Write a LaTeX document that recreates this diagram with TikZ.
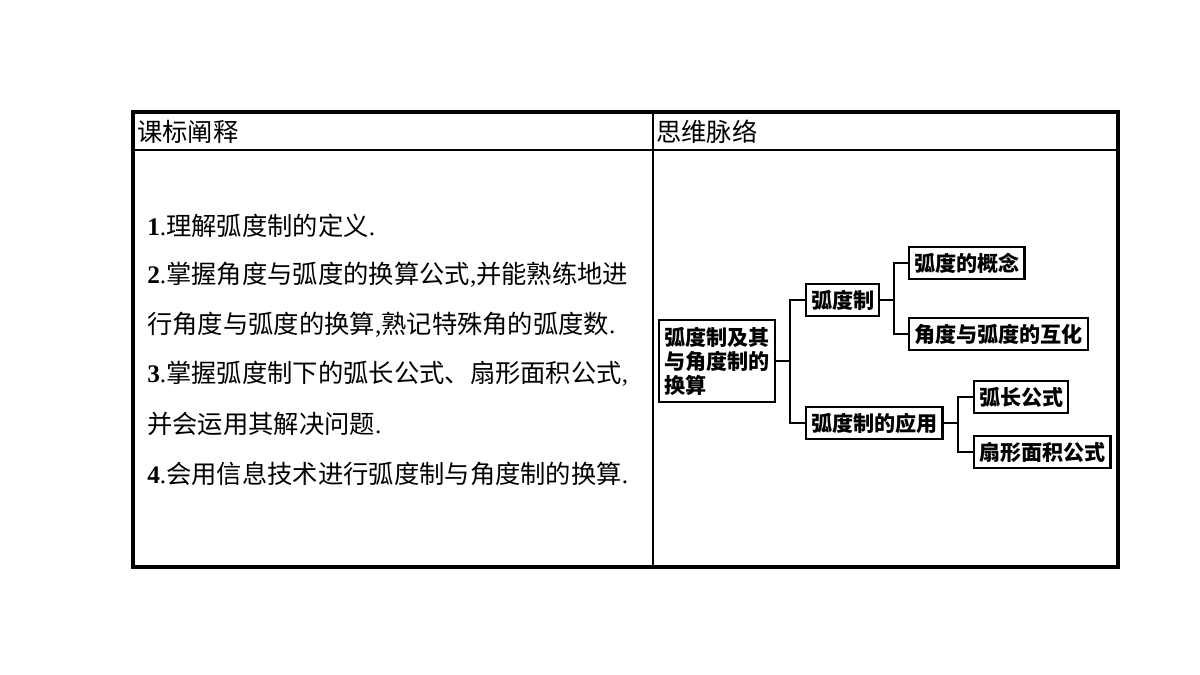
\documentclass[tikz,border=0pt]{standalone}
\usepackage{fontspec}
\setmainfont{Noto Sans CJK SC}
\newfontfamily\numf{Liberation Serif}
\usetikzlibrary{positioning}
\newcommand{\nb}[1]{{\numf\bfseries #1}{\numf .}}
\begin{document}
\begin{tikzpicture}[x=0.025cm,y=-0.025cm,
box/.style={draw, line width=1.6pt, inner xsep=3.5pt, inner ysep=4pt, font=\fontsize{15}{17}\selectfont\bfseries},
item/.style={anchor=west, inner sep=0pt, font=\fontsize{18}{19}\selectfont},
link/.style={line width=0.8pt}]
\useasboundingbox (0,0) rectangle (1200,675);
% table
\draw[line width=2.6pt] (133,112) rectangle (1118,567);
\draw[line width=1.6pt] (133,150) -- (1118,150);
\draw[line width=1.6pt] (653,112) -- (653,567);
\node[item] (h1) at (137,132) {课标阐释};
\node[item] (h2) at (656,132) {思维脉络};
% left column
\node[item] (l1) at (147,226) {\nb{1}理解弧度制的定义{\numf .}};
\node[item] (l2) at (147,275) {\nb{2}掌握角度与弧度的换算公式{\numf ,}并能熟练地进};
\node[item] (l3) at (147,325) {行角度与弧度的换算{\numf ,}熟记特殊角的弧度数{\numf .}};
\node[item] (l4) at (147,374) {\nb{3}掌握弧度制下的弧长公式、扇形面积公式{\numf ,}};
\node[item] (l5) at (147,424) {并会运用其解决问题{\numf .}};
\node[item] (l6) at (147,474) {\nb{4}会用信息技术进行弧度制与角度制的换算{\numf .}};
% mind map
\node[box, align=left, inner xsep=4pt, inner ysep=5pt] (root) at (717,361)
  {\baselineskip=22pt 弧度制及其\\与角度制的\\换算};
\node[box, anchor=west] (hd) at (805,300) {弧度制};
\node[box, anchor=west] (yy) at (805,423) {弧度制的应用};
\node[box, anchor=west] (gn) at (908,263) {弧度的概念};
\node[box, anchor=west] (hh) at (908,334) {角度与弧度的互化};
\node[box, anchor=west] (hc) at (973,397) {弧长公式};
\node[box, anchor=west] (sx) at (973,452) {扇形面积公式};
\coordinate (j1) at (790,361);
\coordinate (j2) at (894,300);
\coordinate (j3) at (958,423);
\draw[link] (root.east) -- (j1);
\draw[link] (hd.west) -| (j1) |- (yy.west);
\draw[link] (hd.east) -- (j2);
\draw[link] (gn.west) -| (j2) |- (hh.west);
\draw[link] (yy.east) -- (j3);
\draw[link] (hc.west) -| (j3) |- (sx.west);
\end{tikzpicture}
\end{document}
